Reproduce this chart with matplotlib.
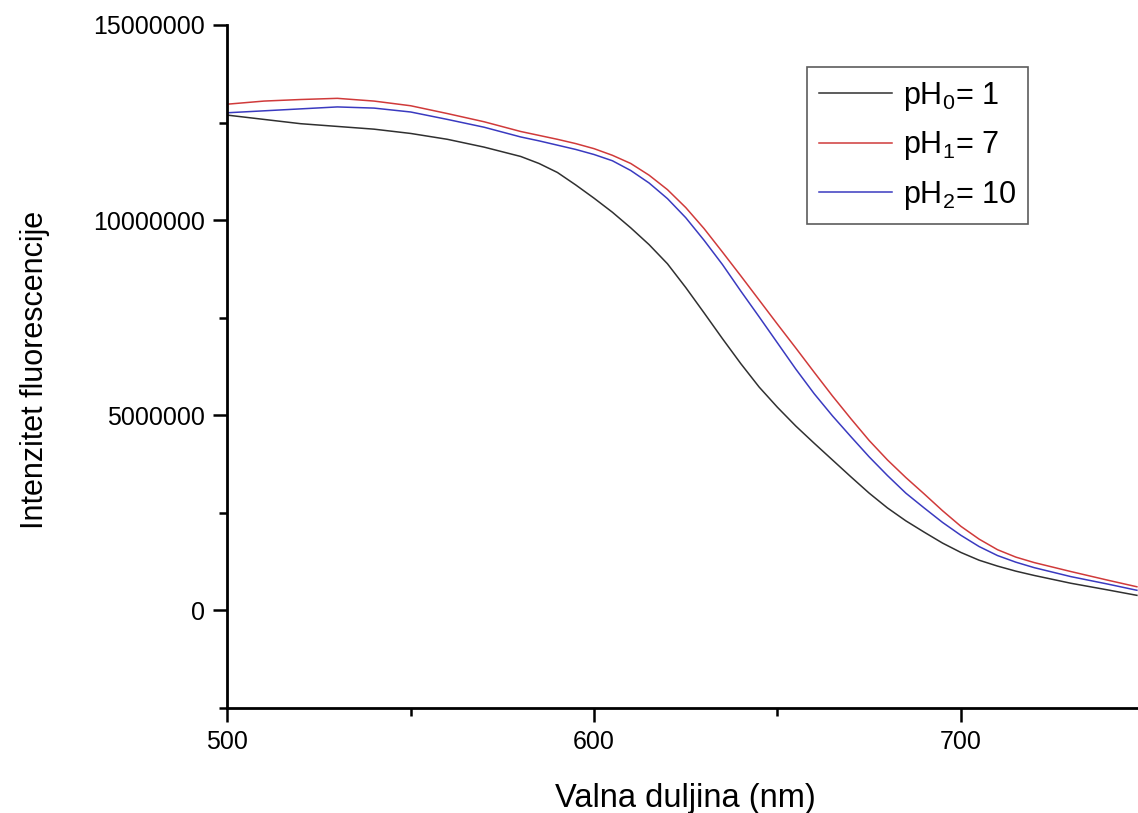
import numpy as np
import matplotlib
matplotlib.use("Agg")
import matplotlib.pyplot as plt
from matplotlib.ticker import MultipleLocator

plt.rcParams['font.family'] = ['Liberation Sans', 'DejaVu Sans']
plt.rcParams['mathtext.fontset'] = 'custom'
plt.rcParams['mathtext.rm'] = 'Liberation Sans'

# wavelengths (nm) and intensities (in millions)
wavelength = [500, 510, 520, 530, 540, 550, 560, 570, 580, 585,
              590, 595, 600, 605, 610, 615, 620, 625, 630, 635,
              640, 645, 650, 655, 660, 665, 670, 675, 680, 685,
              690, 695, 700, 705, 710, 715, 720, 730, 740, 748]
ph0 = [12.69, 12.58, 12.47, 12.40, 12.33, 12.22, 12.07, 11.87, 11.63, 11.45,
       11.22, 10.90, 10.56, 10.20, 9.80, 9.37, 8.88, 8.27, 7.62, 6.96,
       6.32, 5.72, 5.20, 4.72, 4.28, 3.85, 3.42, 3.00, 2.62, 2.29,
       2.00, 1.72, 1.48, 1.28, 1.13, 1.00, 0.89, 0.69, 0.52, 0.38]
ph1 = [12.97, 13.05, 13.09, 13.12, 13.05, 12.93, 12.73, 12.52, 12.27, 12.17,
       12.07, 11.96, 11.83, 11.66, 11.45, 11.15, 10.78, 10.32, 9.78, 9.18,
       8.57, 7.95, 7.33, 6.72, 6.10, 5.49, 4.91, 4.35, 3.85, 3.40,
       2.98, 2.55, 2.15, 1.82, 1.55, 1.36, 1.22, 0.99, 0.77, 0.60]
ph2 = [12.75, 12.80, 12.85, 12.90, 12.87, 12.77, 12.58, 12.38, 12.13, 12.03,
       11.92, 11.81, 11.68, 11.52, 11.27, 10.95, 10.55, 10.06, 9.48, 8.86,
       8.18, 7.52, 6.85, 6.18, 5.55, 4.98, 4.45, 3.93, 3.45, 3.00,
       2.62, 2.25, 1.92, 1.63, 1.40, 1.23, 1.09, 0.86, 0.67, 0.51]
labels = ['pH$\\mathregular{_0}$= 1', 'pH$\\mathregular{_1}$= 7', 'pH$\\mathregular{_2}$= 10']
colors = ['#303030', '#d03a3a', '#3a3ac0']

fig = plt.figure(figsize=(11.38, 8.13), dpi=100)
ax = fig.add_axes([227.3 / 1138, 105.3 / 813, (1138 - 227.3) / 1138, 682.7 / 813])

for series, lab, col in zip([ph0, ph1, ph2], labels, colors):
    ax.plot(wavelength, np.array(series) * 1e6, color=col, lw=1.1, label=lab)

ax.set_xlim(500, 748.3)
ax.set_ylim(-2500000, 15000000)

ax.spines['top'].set_visible(False)
ax.spines['right'].set_visible(False)
for s in ['left', 'bottom']:
    ax.spines[s].set_linewidth(2)

ax.xaxis.set_major_locator(MultipleLocator(100))
ax.xaxis.set_minor_locator(MultipleLocator(50))
ax.yaxis.set_major_locator(MultipleLocator(5000000))
ax.yaxis.set_minor_locator(MultipleLocator(2500000))
ax.ticklabel_format(axis='y', style='plain', useOffset=False)
ax.tick_params(which='major', direction='out', length=10, width=1.8, labelsize=18, pad=6)
ax.tick_params(which='minor', direction='out', length=6, width=1.8)

fig.text(685 / 1138, (813 - 807) / 813, 'Valna duljina (nm)', ha='center', va='baseline', fontsize=23.5)
fig.text(35 / 1138, 1 - 370 / 813, 'Intenzitet fluorescencije', ha='center', va='center',
         rotation=90, fontsize=22)

leg = ax.legend(loc='upper left', bbox_to_anchor=(0.636, 0.938), borderaxespad=0,
                fontsize=22, frameon=True, fancybox=False, handlelength=2.4,
                handletextpad=0.35, labelspacing=0.55, borderpad=0.4)
leg.get_frame().set_edgecolor('#333333')
leg.get_frame().set_linewidth(1.2)

fig.savefig('out.png', dpi=100)
